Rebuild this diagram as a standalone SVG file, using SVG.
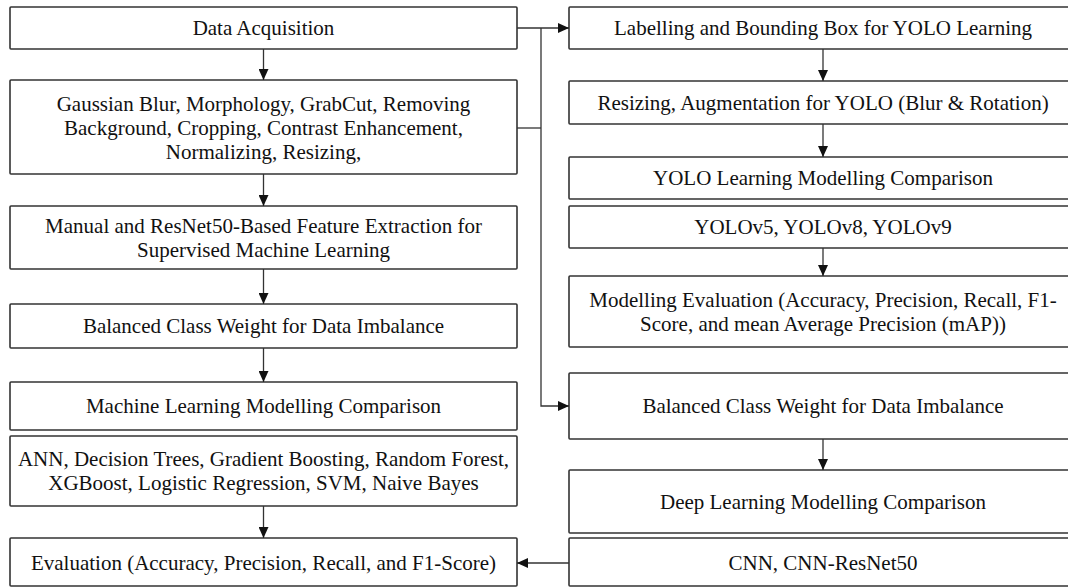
<svg xmlns="http://www.w3.org/2000/svg" width="1068" height="587" viewBox="0 0 1068 587">
<style>
.box{fill:#fff;stroke:#333;stroke-width:1.6}
.t{font-family:"Liberation Serif","Times New Roman",serif;font-size:21px;fill:#111;text-anchor:middle;dominant-baseline:central}
.c{fill:none;stroke:#333;stroke-width:1.3}
</style>
<defs>
<marker id="ah" markerUnits="userSpaceOnUse" markerWidth="12" markerHeight="10" refX="11" refY="5" orient="auto"><path d="M0,0 L11,5 L0,10 z" fill="#111"/></marker>
</defs>
<rect width="1068" height="587" fill="#fff"/>
<g id="n1"><rect class="box" x="10" y="7" width="507" height="42" rx="1"/><text class="t" x="263.5" y="28">Data Acquisition</text></g>
<g id="n2"><rect class="box" x="10" y="80" width="507" height="94" rx="1"/><text class="t" x="263.5" y="104">Gaussian Blur, Morphology, GrabCut, Removing</text><text class="t" x="263.5" y="128">Background, Cropping, Contrast Enhancement,</text><text class="t" x="263.5" y="152">Normalizing, Resizing,</text></g>
<g id="n3"><rect class="box" x="10" y="206" width="507" height="63" rx="1"/><text class="t" x="263.5" y="226">Manual and ResNet50-Based Feature Extraction for</text><text class="t" x="263.5" y="250">Supervised Machine Learning</text></g>
<g id="n4"><rect class="box" x="10" y="304" width="507" height="44" rx="1"/><text class="t" x="263.5" y="326">Balanced Class Weight for Data Imbalance</text></g>
<g id="n5"><rect class="box" x="10" y="382" width="507" height="48" rx="1"/><text class="t" x="263.5" y="406">Machine Learning Modelling Comparison</text></g>
<g id="n6"><rect class="box" x="10" y="436" width="507" height="70" rx="1"/><text class="t" x="263.5" y="459">ANN, Decision Trees, Gradient Boosting, Random Forest,</text><text class="t" x="263.5" y="483">XGBoost, Logistic Regression, SVM, Naive Bayes</text></g>
<g id="n7"><rect class="box" x="10" y="538" width="507" height="48" rx="1"/><text class="t" x="263.5" y="563">Evaluation (Accuracy, Precision, Recall, and F1-Score)</text></g>
<g id="r1"><rect class="box" x="569" y="7" width="508" height="42" rx="1"/><text class="t" x="823" y="28">Labelling and Bounding Box for YOLO Learning</text></g>
<g id="r2"><rect class="box" x="569" y="81" width="508" height="43" rx="1"/><text class="t" x="823" y="103">Resizing, Augmentation for YOLO (Blur &amp; Rotation)</text></g>
<g id="r3"><rect class="box" x="569" y="157" width="508" height="42" rx="1"/><text class="t" x="823" y="178">YOLO Learning Modelling Comparison</text></g>
<g id="r4"><rect class="box" x="569" y="206" width="508" height="42" rx="1"/><text class="t" x="823" y="227">YOLOv5, YOLOv8, YOLOv9</text></g>
<g id="r5"><rect class="box" x="569" y="276" width="508" height="71" rx="1"/><text class="t" x="823" y="300">Modelling Evaluation (Accuracy, Precision, Recall, F1-</text><text class="t" x="823" y="324">Score, and mean Average Precision (mAP))</text></g>
<g id="r6"><rect class="box" x="569" y="373" width="508" height="66" rx="1"/><text class="t" x="823" y="406">Balanced Class Weight for Data Imbalance</text></g>
<g id="r7"><rect class="box" x="569" y="470" width="508" height="63" rx="1"/><text class="t" x="823" y="502">Deep Learning Modelling Comparison</text></g>
<g id="r8"><rect class="box" x="569" y="538" width="508" height="48" rx="1"/><text class="t" x="823" y="563">CNN, CNN-ResNet50</text></g>
<g id="connectors">
<line class="c" x1="263.5" y1="49" x2="263.5" y2="80" marker-end="url(#ah)"/>
<line class="c" x1="263.5" y1="174" x2="263.5" y2="206" marker-end="url(#ah)"/>
<line class="c" x1="263.5" y1="269" x2="263.5" y2="304" marker-end="url(#ah)"/>
<line class="c" x1="263.5" y1="348" x2="263.5" y2="382" marker-end="url(#ah)"/>
<line class="c" x1="263.5" y1="506" x2="263.5" y2="538" marker-end="url(#ah)"/>
<line class="c" x1="823" y1="49" x2="823" y2="81" marker-end="url(#ah)"/>
<line class="c" x1="823" y1="124" x2="823" y2="157" marker-end="url(#ah)"/>
<line class="c" x1="823" y1="248" x2="823" y2="276" marker-end="url(#ah)"/>
<line class="c" x1="823" y1="439" x2="823" y2="470" marker-end="url(#ah)"/>
<line class="c" x1="517" y1="28" x2="569" y2="28" marker-end="url(#ah)"/>
<polyline class="c" points="541,28 541,406 569,406" marker-end="url(#ah)"/>
<line class="c" x1="517" y1="128" x2="541" y2="128"/>
<line class="c" x1="569" y1="563" x2="517" y2="563" marker-end="url(#ah)"/>
</g>
</svg>
